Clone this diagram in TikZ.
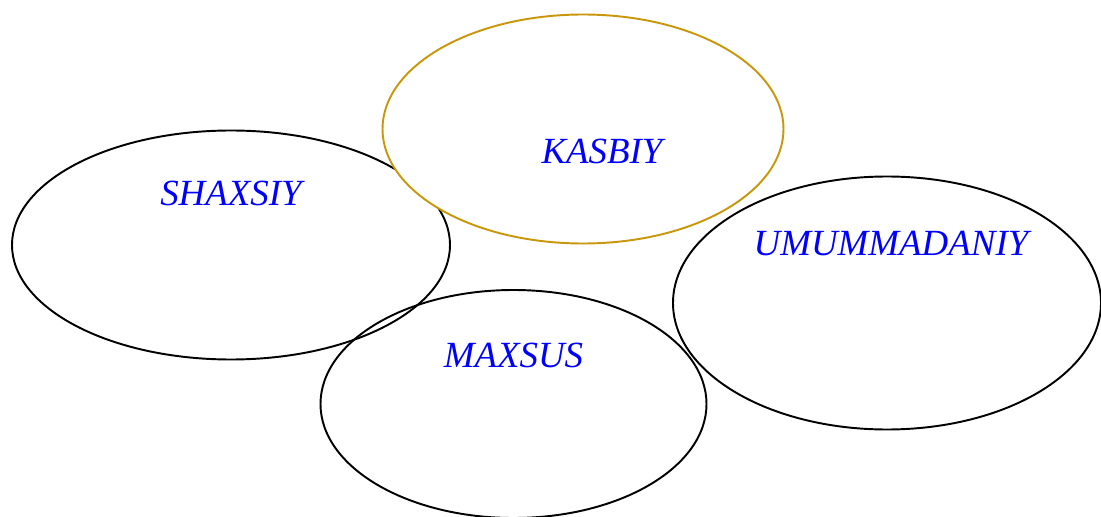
\documentclass[tikz,border=0pt]{standalone}
\usepackage{fontspec}
\setmainfont{Liberation Serif}
\usepackage{xcolor}
\definecolor{gold}{HTML}{C9970C}
\definecolor{labelblue}{HTML}{0000FF}
\usetikzlibrary{shapes}

\begin{document}
\begin{tikzpicture}[every node/.style={font=\fontsize{21}{25}\selectfont\itshape, text=labelblue}]
  \useasboundingbox (0,0) rectangle (22.02,-10.34);
  % Shaxsiy ellipse
  \node[draw, ellipse, line width=1.1pt, minimum width=8.76cm, minimum height=4.58cm] (shaxsiy) at (4.62,-4.90) {};
  % Kasbiy ellipse, drawn over Shaxsiy
  \node[draw=gold, ellipse, line width=1.1pt, fill=white, minimum width=8.02cm, minimum height=4.58cm] (kasbiy) at (11.66,-2.58) {};
  % Maxsus ellipse
  \node[draw, ellipse, line width=1.1pt, minimum width=7.72cm, minimum height=4.56cm] (maxsus) at (10.27,-8.08) {};
  % Umummadaniy ellipse
  \node[draw, ellipse, line width=1.1pt, minimum width=8.56cm, minimum height=5.06cm] (umummadaniy) at (17.74,-6.06) {};

  % Labels
  \node (shaxsiylabel) at ([yshift=1.04cm]shaxsiy.center) {SHAXSIY};
  \node (kasbiylabel) at ([xshift=0.38cm, yshift=-0.44cm]kasbiy.center) {KASBIY};
  \node (maxsuslabel) at ([yshift=0.98cm]maxsus.center) {MAXSUS};
  \node (umummadaniylabel) at ([xshift=0.08cm, yshift=1.18cm]umummadaniy.center) {UMUMMADANIY};
\end{tikzpicture}
\end{document}
